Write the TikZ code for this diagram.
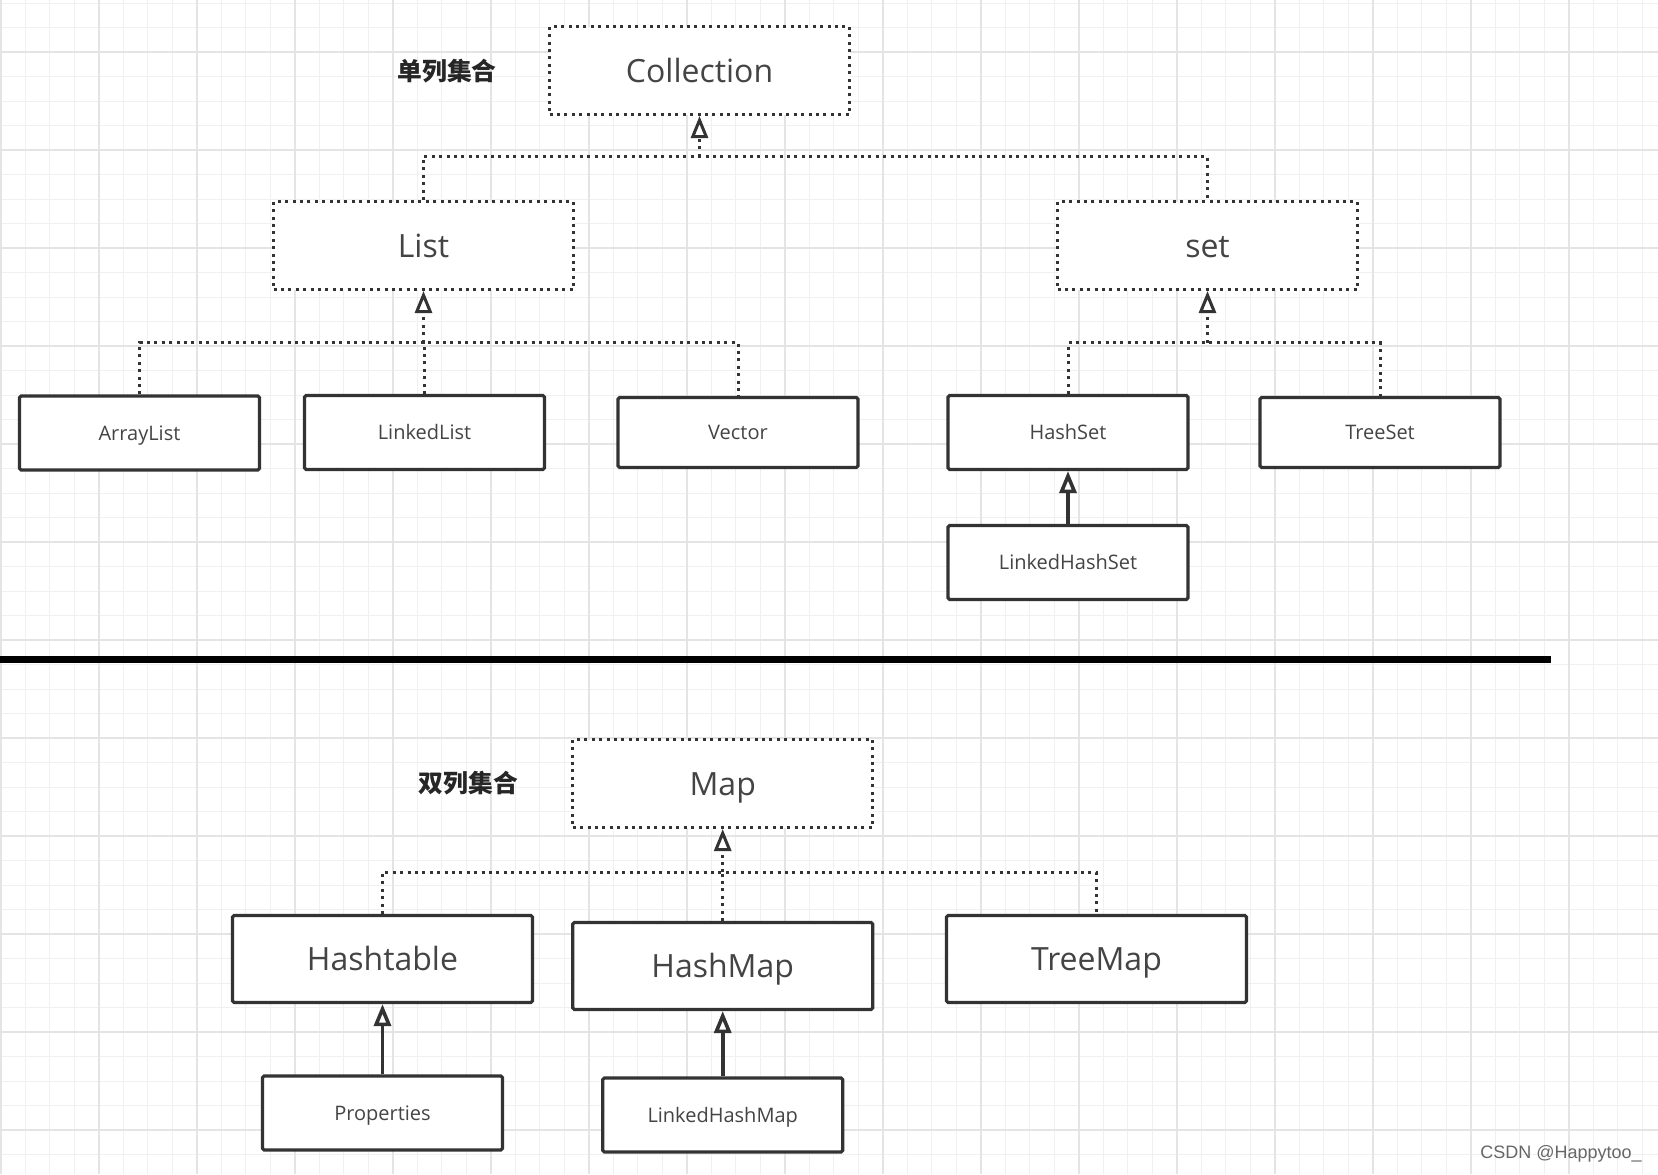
\documentclass[tikz,border=0pt]{standalone}
\usepackage{fontspec}
\setmainfont{Open Sans}
\newfontfamily\cjk{Noto Sans CJK SC}
\newfontfamily\wmfont{Liberation Sans}
\usetikzlibrary{arrows.meta}
\definecolor{collgrid}{RGB}{240,240,240}
\definecolor{collgridmajor}{RGB}{228,228,228}
\definecolor{collline}{RGB}{51,51,51}
\definecolor{colltext}{RGB}{68,68,68}

\begin{document}
\begin{tikzpicture}[x=0.5pt,y=-0.5pt,>={Triangle[open,length=11pt,width=8.5pt]},
    ifacebox/.style={draw=collline,line width=1.5pt,dash pattern=on 1.5pt off 2.2pt,
      fill=white,minimum width=150pt,minimum height=44pt,text height=11.5pt,text depth=0pt,
      font=\fontsize{16}{18}\selectfont,text=colltext},
    classbox/.style={draw=collline,line width=1.6pt,rounded corners=0.8pt,fill=white,
      minimum width=120pt,minimum height=37pt,text height=7.2pt,text depth=0pt,
      font=\fontsize{10}{12}\selectfont,text=colltext},
    bigclass/.style={classbox,minimum width=150pt,minimum height=43.5pt,text height=11.5pt,
      font=\fontsize{16}{18}\selectfont},
    dotline/.style={draw=collline,line width=1.5pt,dash pattern=on 1.5pt off 2.2pt},
    solidline/.style={draw=collline,line width=1.8pt},
    grouplabel/.style={font=\cjk\bfseries\fontsize{12.4}{14}\selectfont,text=black!85}]
    \useasboundingbox (0,0) rectangle (1658,1174);
    \fill[white] (0,0) rectangle (1658,1174);
    % grid
    \foreach \gx in {0,...,67}
      \draw[collgrid,line width=0.5pt] ({0.9+24.5*\gx},0) -- ++(0,1174);
    \foreach \gy in {0,...,47}
      \draw[collgrid,line width=0.5pt] (0,{3+24.5*\gy}) -- ++(1658,0);
    \foreach \gx in {0,...,16}
      \draw[collgridmajor,line width=0.6pt] ({0.9+98*\gx},0) -- ++(0,1174);
    \foreach \gy in {0,...,11}
      \draw[collgridmajor,line width=0.6pt] (0,{52+98*\gy}) -- ++(1658,0);

    % single-column collections
    \node[grouplabel] (singlelabel) at (447,71) {单列集合};
    \node[ifacebox] (collection) at (699.5,70.5) {Collection};
    \node[ifacebox] (list) at (423.5,245.5) {List};
    \node[ifacebox] (set) at (1207.5,245.5) {set};
    \node[classbox] (arraylist) at (139.5,433) {ArrayList};
    \node[classbox] (linkedlist) at (424.5,432.5) {LinkedList};
    \node[classbox,minimum height=35pt] (vector) at (738,432.5) {Vector};
    \node[classbox] (hashset) at (1068,432.5) {HashSet};
    \node[classbox,minimum height=35pt] (treeset) at (1380,432.5) {TreeSet};
    \node[classbox] (linkedhashset) at (1068,562.5) {LinkedHashSet};

    \coordinate (collbus) at (collection.south |- 0,156.5);
    \coordinate (listbus) at (list.south |- 0,342.6);
    \coordinate (setbus) at (set.south |- 0,342.6);
    \draw[dotline] (list.north) |- (collbus) -| (set.north);
    \draw[dotline,->] (collbus) -- (collection.south);
    \draw[dotline] (arraylist.north) |- (listbus) -| (vector.north);
    \draw[dotline] (linkedlist.north) -- (linkedlist.north |- listbus);
    \draw[dotline,->] (listbus) -- (list.south);
    \draw[dotline] (hashset.north) |- (setbus) -| (treeset.north);
    \draw[dotline,->] (setbus) -- (set.south);
    \draw[solidline,->] (linkedhashset) -- (hashset);

    % separator
    \coordinate (sepleft) at (0,659);
    \coordinate (sepright) at (1551,659);
    \draw[line width=3.5pt,black] (sepleft) -- (sepright);

    % double-column collections
    \node[grouplabel] (doublelabel) at (468.4,783.5) {双列集合};
    \node[ifacebox] (map) at (722.7,783.5) {Map};
    \node[bigclass] (hashtable) at (382.5,959) {Hashtable};
    \node[bigclass] (hashmap) at (722.7,966) {HashMap};
    \node[bigclass] (treemap) at (1096.5,959) {TreeMap};
    \node[classbox] (properties) at (382.5,1113) {Properties};
    \node[classbox] (linkedhashmap) at (722.7,1115) {LinkedHashMap};

    \coordinate (mapbus) at (map.south |- 0,872.4);
    \draw[dotline] (hashtable.north) |- (mapbus) -| (treemap.north);
    \draw[dotline] (hashmap.north) -- (mapbus);
    \draw[dotline,->] (mapbus) -- (map.south);
    \draw[solidline,->] (properties) -- (hashtable);
    \draw[solidline,->] (linkedhashmap) -- (hashmap);

    \node[font=\wmfont\fontsize{9}{11}\selectfont,text=black!60] (watermark)
      at (1561,1153.6) {CSDN @Happytoo\_};
  \end{tikzpicture}
\end{document}
